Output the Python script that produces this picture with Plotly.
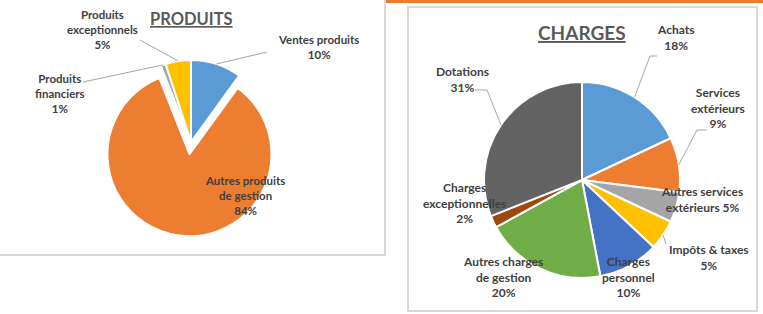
import math
import plotly.graph_objects as go

# ---------------- data ----------------
produits_labels = ["Ventes produits", "Autres produits de gestion",
                   "Produits financiers", "Produits exceptionnels"]
produits_values = [10, 84, 1, 5]
produits_colors = ["#5B9BD5", "#ED7D31", "#A5A5A5", "#FFC000"]

charges_labels = ["Achats", "Services extérieurs", "Autres services extérieurs",
                  "Impôts & taxes", "Charges personnel", "Autres charges de gestion",
                  "Charges exceptionnelles", "Dotations"]
charges_values = [18, 9, 5, 5, 10, 20, 2, 31]
charges_colors = ["#5B9BD5", "#ED7D31", "#A5A5A5", "#FFC000",
                  "#4472C4", "#70AD47", "#9E480E", "#636363"]

# display wrapping of the category names
wrap = {
    "Ventes produits": "Ventes produits<br>{p}",
    "Autres produits de gestion": "Autres produits<br>de gestion<br>{p}",
    "Produits financiers": "Produits<br>financiers<br>{p}",
    "Produits exceptionnels": "Produits<br>exceptionnels<br>{p}",
    "Achats": "Achats<br>{p}",
    "Services extérieurs": "Services<br>extérieurs<br>{p}",
    "Autres services extérieurs": "Autres services<br>extérieurs {p}",
    "Impôts & taxes": "Impôts & taxes<br>{p}",
    "Charges personnel": "Charges<br>personnel<br>{p}",
    "Autres charges de gestion": "Autres charges<br>de gestion<br>{p}",
    "Charges exceptionnelles": "Charges<br>exceptionnelles<br>{p}",
    "Dotations": "Dotations<br>{p}",
}

# ---------------- layout constants (pixels) ----------------
W, H = 763, 314
def px(x): return x / W
def py(y): return 1 - y / H

LEFT_C, LEFT_R, LEFT_PULL = (191, 142), 82, 0.15
RIGHT_C, RIGHT_R = (582, 180), 98

# label centres (pixels)
left_label_pos = [(318, 47), (245, 195), (60, 94), (103, 30)]
right_label_pos = [(675, 38), (718, 108), (702, 199), (709, 257),
                   (628, 277), (503, 277), (464, 203), (462, 80)]

TXT = "#404040"
FONT = "Lato"

def domain(c, r, pull):
    half = r * (1 + pull)
    return dict(x=[px(c[0] - half), px(c[0] + half)],
                y=[py(c[1] + half), py(c[1] - half)])

def mid_angles(vals):
    tot = sum(vals)
    out, cum = [], 0
    for v in vals:
        out.append((cum + v / 2) / tot * 360)
        cum += v
    return out

def rim(c, r, ang, k=1.0):
    a = math.radians(ang)
    return (c[0] + r * k * math.sin(a), c[1] - r * k * math.cos(a))

def pct(vals):
    tot = sum(vals)
    return [f"{round(v / tot * 100)}%" for v in vals]

fig = go.Figure()

fig.add_trace(go.Pie(
    labels=produits_labels, values=produits_values, sort=False,
    direction="clockwise", rotation=0,
    pull=[0, LEFT_PULL, 0, 0],
    marker=dict(colors=produits_colors, line=dict(color="white", width=2)),
    textinfo="none", hoverinfo="label+percent",
    domain=domain(LEFT_C, LEFT_R, LEFT_PULL), showlegend=False))

fig.add_trace(go.Pie(
    labels=charges_labels, values=charges_values, sort=False,
    direction="clockwise", rotation=0,
    marker=dict(colors=charges_colors, line=dict(color="white", width=2)),
    textinfo="none", hoverinfo="label+percent",
    domain=domain(RIGHT_C, RIGHT_R, 0), showlegend=False))

shapes = []
# panel frames
shapes.append(dict(type="rect", xref="paper", yref="paper",
                   x0=px(-3), x1=px(385), y0=py(255), y1=py(-3),
                   line=dict(color="#D9D9D9", width=2), fillcolor="rgba(0,0,0,0)", layer="below"))
shapes.append(dict(type="rect", xref="paper", yref="paper",
                   x0=px(386), x1=px(764), y0=py(3), y1=py(-1),
                   line=dict(width=0), fillcolor="#EE7B2C", layer="below"))
shapes.append(dict(type="rect", xref="paper", yref="paper",
                   x0=px(408), x1=px(757), y0=py(311), y1=py(7),
                   line=dict(color="#D9D9D9", width=2), fillcolor="rgba(0,0,0,0)", layer="below"))

def path(points):
    s = "M " + " L ".join(f"{px(x)},{py(y)}" for x, y in points)
    return dict(type="path", xref="paper", yref="paper", path=s,
                line=dict(color="#A6A6A6", width=1))

la = mid_angles(produits_values)
ra = mid_angles(charges_values)

# left leader lines
shapes.append(path([(267, 52), rim(LEFT_C, LEFT_R, la[0])]))
shapes.append(path([(83, 82), rim(LEFT_C, LEFT_R, la[2])]))
shapes.append(path([(140, 40), rim(LEFT_C, LEFT_R, la[3])]))
# right leader lines
shapes.append(path([(657, 56), (650, 56), rim(RIGHT_C, RIGHT_R, ra[0])]))
shapes.append(path([(707, 130), (697, 130), rim(RIGHT_C, RIGHT_R, ra[1])]))
shapes.append(path([rim(RIGHT_C, RIGHT_R, ra[3]), (666, 244)]))
shapes.append(path([(475, 90), (487, 90), rim(RIGHT_C, RIGHT_R, ra[7])]))

annotations = []
def label(text, pos, size):
    annotations.append(dict(text=text, x=px(pos[0]), y=py(pos[1]),
                            xref="paper", yref="paper", xanchor="center", yanchor="middle",
                            showarrow=False, align="center",
                            font=dict(family=FONT, size=size, color=TXT)))

for name, p, pos in zip(produits_labels, pct(produits_values), left_label_pos):
    label("<b>" + wrap[name].format(p=p) + "</b>", pos, 11.5)
for name, p, pos in zip(charges_labels, pct(charges_values), right_label_pos):
    label("<b>" + wrap[name].format(p=p) + "</b>", pos, 12)

annotations.append(dict(text="<b><u>PRODUITS</u></b>", x=px(191), y=py(19),
                        xref="paper", yref="paper", xanchor="center", yanchor="middle",
                        showarrow=False, font=dict(family=FONT, size=16.5, color="#595959")))
annotations.append(dict(text="<b><u>CHARGES</u></b>", x=px(582), y=py(33),
                        xref="paper", yref="paper", xanchor="center", yanchor="middle",
                        showarrow=False, font=dict(family=FONT, size=19, color="#595959")))

fig.update_layout(width=W, height=H, margin=dict(l=0, r=0, t=0, b=0),
                  paper_bgcolor="white", plot_bgcolor="white",
                  shapes=shapes, annotations=annotations)

fig.write_html("out.html")
